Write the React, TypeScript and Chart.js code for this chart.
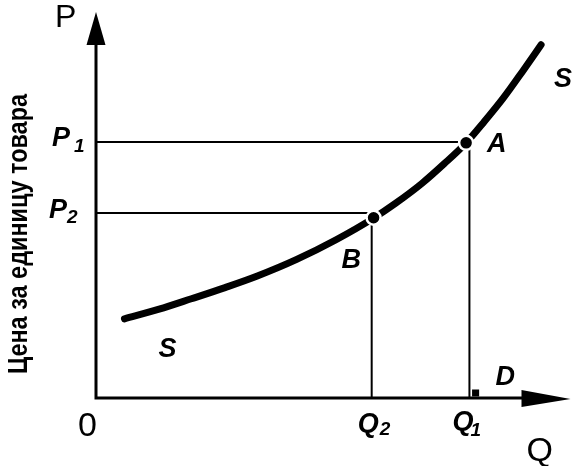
import React, { useEffect, useRef } from "react";
import { Chart, registerables } from "chart.js";

Chart.register(...registerables);

// Quantity / price (arbitrary units, axis range 0..10)
const X_MAX = 10;
const Y_MAX = 10;
const supplyQ = [0.6, 1.33, 2.01, 2.72, 3.4, 4.23, 5.06, 5.85, 6.31, 6.87, 7.34, 7.8, 8.17, 8.59, 9.0, 9.38];
const supplyP = [2.05, 2.3, 2.57, 2.86, 3.16, 3.59, 4.1, 4.66, 5.04, 5.56, 6.07, 6.61, 7.14, 7.78, 8.48, 9.15];
const pointA = { q: 7.8, p: 6.61 };
const pointB = { q: 5.85, p: 4.67 };
const P1 = 6.63;
const P2 = 4.79;
const Q1 = 7.87;
const Q2 = 5.81;
const markD = { q: 8.0, p: 0.13 };
const yTitle = "Цена за единицу товара";

const FONT = "'Liberation Sans', Arial, sans-serif";

const drawPlugin = {
  id: "econDecor",
  afterDraw(chart: any) {
    const { ctx, scales } = chart;
    const x = scales.x;
    const y = scales.y;
    const x0 = x.getPixelForValue(0);
    const y0 = y.getPixelForValue(0);
    const xEnd = x.getPixelForValue(X_MAX);
    const yTop = y.getPixelForValue(Y_MAX);
    ctx.save();
    ctx.fillStyle = "#000";
    ctx.strokeStyle = "#000";
    // axes
    ctx.lineWidth = 3;
    ctx.beginPath();
    ctx.moveTo(x0, y0 + 1.5);
    ctx.lineTo(x0, yTop + 30);
    ctx.moveTo(x0 - 1.5, y0);
    ctx.lineTo(xEnd - 40, y0);
    ctx.stroke();
    // arrow heads
    ctx.beginPath();
    ctx.moveTo(x0, yTop);
    ctx.lineTo(x0 - 9.5, yTop + 33);
    ctx.lineTo(x0 + 9.5, yTop + 33);
    ctx.closePath();
    ctx.fill();
    ctx.beginPath();
    ctx.moveTo(xEnd, y0 + 1);
    ctx.lineTo(xEnd - 49, y0 - 8);
    ctx.lineTo(xEnd - 49, y0 + 9);
    ctx.closePath();
    ctx.fill();

    ctx.textAlign = "left";
    ctx.textBaseline = "alphabetic";
    // axis letters
    ctx.font = `32px ${FONT}`;
    ctx.fillText("P", x0 - 41, yTop + 15);
    ctx.font = `34px ${FONT}`;
    ctx.fillText("Q", xEnd - 44, y0 + 63);
    ctx.fillText("0", x0 - 18, y0 + 38);

    const big = `italic bold 27px ${FONT}`;
    const sub = `italic bold 19px ${FONT}`;
    const yP1 = y.getPixelForValue(P1);
    const yP2 = y.getPixelForValue(P2);
    const xQ1 = x.getPixelForValue(Q1);
    const xQ2 = x.getPixelForValue(Q2);
    // P1, P2
    ctx.font = big;
    ctx.fillText("P", x0 - 44, yP1 + 4);
    ctx.fillText("P", x0 - 47, yP2 + 5);
    ctx.font = sub;
    ctx.fillText("1", x0 - 22, yP1 + 10);
    ctx.fillText("2", x0 - 29, yP2 + 10);
    // Q2, Q1
    ctx.font = big;
    ctx.fillText("Q", xQ2 - 14, y0 + 34);
    ctx.fillText("Q", xQ1 - 17, y0 + 32);
    ctx.font = sub;
    ctx.fillText("2", xQ2 + 8, y0 + 37);
    ctx.fillText("1", xQ1 + 1, y0 + 38);
    // point labels
    const xA = x.getPixelForValue(pointA.q);
    const yA = y.getPixelForValue(pointA.p);
    const xB = x.getPixelForValue(pointB.q);
    const yB = y.getPixelForValue(pointB.p);
    ctx.font = big;
    ctx.fillText("A", xA + 21, yA + 9);
    ctx.fillText("B", xB - 32, yB + 50);
    const xD = x.getPixelForValue(markD.q);
    const yD = y.getPixelForValue(markD.p);
    ctx.fillText("D", xD + 20, yD - 8);
    const n = supplyQ.length - 1;
    const xS1 = x.getPixelForValue(supplyQ[n]);
    const yS1 = y.getPixelForValue(supplyP[n]);
    ctx.fillText("S", xS1 + 13, yS1 + 42);
    const xS0 = x.getPixelForValue(supplyQ[0]);
    const yS0 = y.getPixelForValue(supplyP[0]);
    ctx.fillText("S", xS0 + 34, yS0 + 38);

    // rotated axis title
    ctx.translate(27, 234);
    ctx.rotate(-Math.PI / 2);
    ctx.textAlign = "center";
    ctx.font = `bold 28px ${FONT}`;
    ctx.fillText(yTitle, 0, 0, 280);
    ctx.restore();
  },
};

export default function App() {
  const ref = useRef<HTMLCanvasElement | null>(null);
  useEffect(() => {
    if (!ref.current) return;
    const guide = (pts: { x: number; y: number }[]) => ({
      data: pts,
      showLine: true,
      borderColor: "#000",
      borderWidth: 2,
      pointRadius: 0,
      fill: false,
      order: 3,
    });
    const chart = new Chart(ref.current, {
      type: "scatter",
      data: {
        datasets: [
          guide([{ x: 0, y: P1 }, { x: pointA.q, y: P1 }]),
          guide([{ x: Q1, y: P1 }, { x: Q1, y: 0 }]),
          guide([{ x: 0, y: P2 }, { x: pointB.q, y: P2 }]),
          guide([{ x: Q2, y: P2 }, { x: Q2, y: 0 }]),
          {
            data: supplyQ.map((q, i) => ({ x: q, y: supplyP[i] })),
            showLine: true,
            borderColor: "#000",
            borderWidth: 7,
            borderCapStyle: "round",
            cubicInterpolationMode: "monotone",
            pointRadius: 0,
            fill: false,
            order: 2,
          } as any,
          {
            data: [
              { x: pointA.q, y: pointA.p },
              { x: pointB.q, y: pointB.p },
            ],
            pointRadius: 7,
            pointBackgroundColor: "#000",
            pointBorderColor: "#fff",
            pointBorderWidth: 2.5,
            order: 1,
          },
          {
            data: [{ x: markD.q, y: markD.p }],
            pointStyle: "rect",
            pointRadius: 5,
            pointBackgroundColor: "#000",
            pointBorderColor: "#000",
            pointBorderWidth: 0,
            order: 0,
          },
        ],
      },
      options: {
        responsive: false,
        animation: false,
        layout: { padding: { left: 96, top: 12, right: 2, bottom: 68 } },
        plugins: { legend: { display: false }, tooltip: { enabled: false } },
        scales: {
          x: { type: "linear", min: 0, max: X_MAX, display: false },
          y: { type: "linear", min: 0, max: Y_MAX, display: false },
        },
      },
      plugins: [drawPlugin],
    });
    return () => chart.destroy();
  }, []);
  return (
    <div style={{ position: "absolute", left: 0, top: 0, width: 580, height: 466, background: "#fff" }}>
      <canvas ref={ref} width={580} height={466} />
    </div>
  );
}
